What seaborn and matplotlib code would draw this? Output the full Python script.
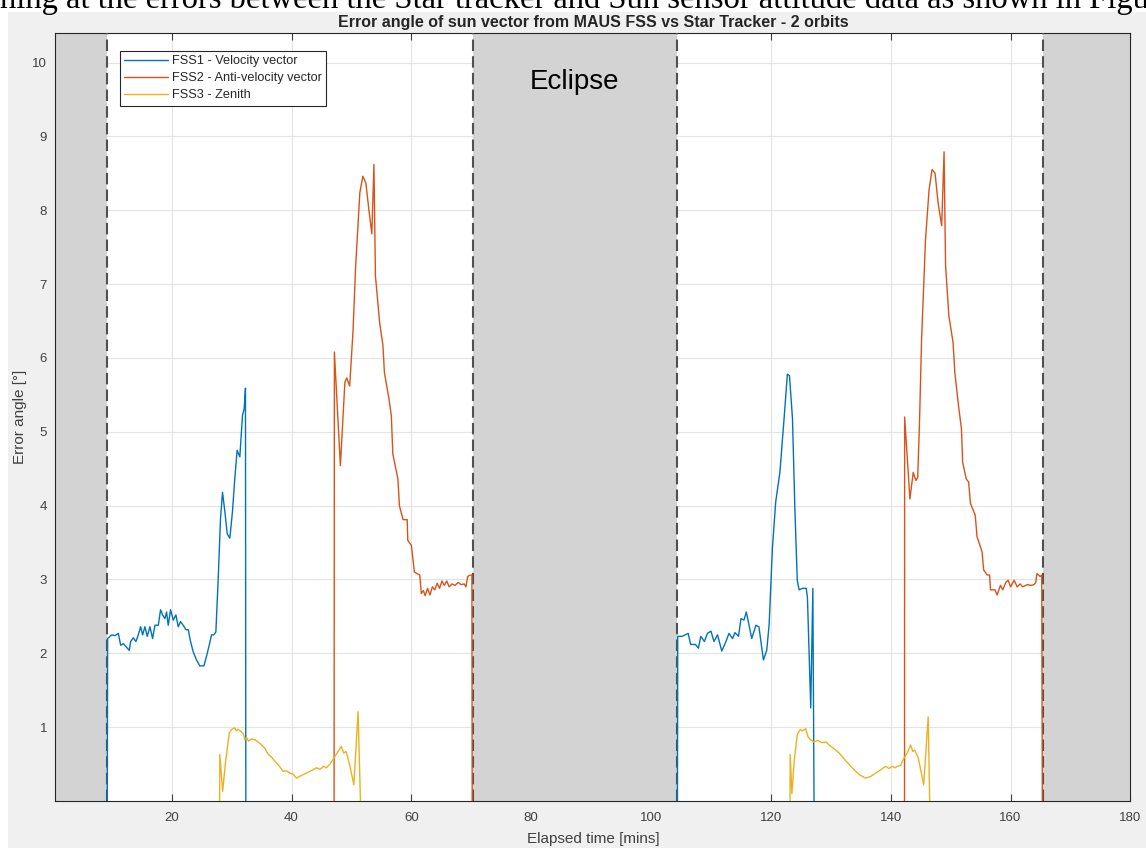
import numpy as np
import pandas as pd
import matplotlib
matplotlib.use("Agg")
import matplotlib.pyplot as plt
import seaborn as sns
from matplotlib.lines import Line2D
from matplotlib.patches import Rectangle

# ---------------- data ----------------
sensor_labels = ["FSS1 - Velocity vector", "FSS2 - Anti-velocity vector", "FSS3 - Zenith"]
sensor_colors = ["#0072BD", "#D95319", "#EDB120"]

fss1_o1_t = [9.25, 9.3, 9.98, 10.53, 11.09, 11.48, 11.92, 12.37, 12.92, 13.14, 13.59, 14.03, 14.42,
             14.81, 15.14, 15.53, 15.92, 16.37, 16.81, 17.2, 17.76, 18.14, 18.48, 18.87, 19.14, 19.42,
             19.81, 20.26, 20.7, 21.09, 21.48, 21.92, 22.37, 22.76, 23.14, 23.59, 24.14, 24.7, 25.37,
             25.81, 26.26, 26.64, 27.03, 27.37, 27.76, 28.14, 28.48, 28.87, 29.26, 29.7, 30.14, 30.53,
             30.92, 31.37, 31.81, 32.09, 32.31, 32.37]
fss1_o1_v = [0.0, 2.2, 2.25, 2.24, 2.27, 2.11, 2.13, 2.09, 2.04, 2.16, 2.21, 2.16, 2.25,
             2.36, 2.25, 2.36, 2.23, 2.36, 2.2, 2.38, 2.38, 2.59, 2.52, 2.47, 2.56, 2.38,
             2.59, 2.45, 2.52, 2.36, 2.43, 2.38, 2.32, 2.32, 2.16, 2.02, 1.91, 1.83, 1.83,
             1.96, 2.11, 2.25, 2.25, 2.29, 3.01, 3.82, 4.18, 3.92, 3.62, 3.56, 3.92, 4.37,
             4.75, 4.66, 5.22, 5.31, 5.59, 0.0]

fss2_o1_t = [47.1, 47.15, 48.15, 48.9, 49.2, 49.7, 50.25, 50.7, 51.4, 51.9, 52.4, 52.9, 53.4, 53.75,
             54.0, 54.7, 55.25, 55.5, 56.25, 56.65, 56.9, 57.75, 58.0, 58.6, 59.3, 59.4, 60.0, 60.5,
             61.4, 61.65, 62.0, 62.3, 62.7, 63.1, 63.5, 63.9, 64.3, 64.7, 65.1, 65.5, 65.9, 66.3,
             66.8, 67.3, 67.8, 68.3, 68.8, 69.1, 69.4, 69.8, 70.1, 70.15]
fss2_o1_v = [0.0, 6.08, 4.54, 5.67, 5.73, 5.62, 6.35, 7.25, 8.24, 8.46, 8.37, 8.01, 7.68, 8.62,
             7.11, 6.48, 6.17, 5.8, 5.45, 5.22, 4.7, 4.36, 4.0, 3.81, 3.81, 3.53, 3.46, 3.1,
             3.06, 2.81, 2.85, 2.78, 2.88, 2.79, 2.9, 2.86, 2.95, 2.88, 2.98, 2.92, 2.98, 2.9,
             2.94, 2.92, 2.96, 2.93, 2.94, 2.9, 3.04, 3.06, 3.06, 0.0]

fss3_o1_t = [28.0, 28.03, 28.5, 29.0, 29.6, 30.0, 30.5, 30.8, 31.1, 31.6, 32.0, 32.2, 32.5, 32.8,
             33.3, 33.9, 34.4, 35.0, 35.5, 36.1, 36.6, 37.2, 37.9, 38.6, 39.1, 39.7, 40.3, 40.8,
             41.5, 42.5, 43.3, 44.15, 44.8, 45.3, 45.8, 46.4, 46.9, 47.6, 48.3, 48.7, 49.1, 49.7,
             50.4, 51.1, 51.5]
fss3_o1_v = [0.0, 0.63, 0.13, 0.54, 0.92, 0.97, 0.99, 0.95, 0.97, 0.94, 0.9, 0.83, 0.86, 0.81,
             0.84, 0.83, 0.8, 0.76, 0.72, 0.63, 0.6, 0.54, 0.48, 0.4, 0.41, 0.38, 0.36, 0.31,
             0.34, 0.38, 0.41, 0.45, 0.43, 0.47, 0.45, 0.5, 0.56, 0.65, 0.74, 0.65, 0.67, 0.49,
             0.22, 1.21, 0.0]

fss1_o2_t = [104.4, 104.45, 105.2, 106.2, 106.6, 107.4, 107.9, 108.3, 108.9, 109.4, 110.0, 110.5,
             111.1, 111.8, 112.5, 113.0, 113.6, 114.0, 114.6, 115.0, 115.5, 115.9, 116.8, 117.5,
             118.0, 118.75, 119.3, 119.7, 120.25, 120.8, 121.5, 122.2, 122.75, 123.1, 123.6, 124.0,
             124.4, 124.7, 125.3, 125.9, 126.1, 126.65, 127.0, 127.2]
fss1_o2_v = [0.0, 2.23, 2.23, 2.27, 2.12, 2.12, 2.07, 2.23, 2.16, 2.27, 2.3, 2.16,
             2.25, 2.03, 2.16, 2.27, 2.2, 2.28, 2.23, 2.47, 2.45, 2.56, 2.2, 2.38,
             2.36, 1.91, 2.04, 2.38, 3.42, 4.05, 4.45, 5.18, 5.78, 5.76, 5.18, 3.96,
             2.99, 2.86, 2.88, 2.88, 2.75, 1.26, 2.88, 0.0]

fss2_o2_t = [142.3, 142.32, 143.2, 143.75, 144.2, 144.5, 144.8, 145.15, 145.8, 146.4, 146.9, 147.4,
             147.9, 148.5, 148.9, 149.15, 149.7, 150.4, 150.7, 151.3, 151.8, 152.0, 152.6, 153.0,
             153.3, 154.1, 154.4, 155.25, 155.5, 156.1, 156.5, 156.65, 157.4, 157.75, 158.3, 158.7,
             159.2, 159.6, 160.0, 160.6, 161.1, 161.6, 162.0, 162.8, 163.4, 163.9, 164.2, 164.4,
             164.95, 165.2, 165.3]
fss2_o2_v = [0.0, 5.2, 4.09, 4.45, 4.34, 4.38, 5.13, 6.26, 7.6, 8.28, 8.55, 8.5,
             8.1, 7.79, 8.79, 7.25, 6.57, 6.21, 5.8, 5.36, 5.04, 4.59, 4.36, 4.32,
             4.03, 3.87, 3.58, 3.37, 3.13, 3.06, 3.06, 2.86, 2.86, 2.79, 2.92, 2.86,
             2.96, 2.99, 2.9, 2.99, 2.9, 2.94, 2.9, 2.93, 2.92, 2.93, 2.96, 3.08,
             3.04, 3.06, 0.0]

fss3_o2_t = [123.2, 123.22, 123.5, 123.9, 124.4, 124.9, 125.3, 125.8, 126.2, 126.6, 127.2, 127.8,
             128.5, 129.2, 129.7, 130.5, 131.4, 132.2, 133.0, 133.8, 134.7, 135.8, 136.6, 137.5,
             138.3, 139.1, 139.7, 140.25, 140.7, 141.1, 141.6, 142.2, 142.75, 143.3, 143.7, 144.0,
             144.6, 145.5, 146.25, 146.5]
fss3_o2_v = [0.0, 0.63, 0.1, 0.55, 0.9, 0.97, 0.95, 0.98, 0.87, 0.83, 0.8, 0.82,
             0.79, 0.8, 0.76, 0.71, 0.65, 0.57, 0.5, 0.43, 0.36, 0.31, 0.33, 0.38,
             0.42, 0.47, 0.44, 0.47, 0.45, 0.47, 0.48, 0.58, 0.65, 0.76, 0.67, 0.69,
             0.58, 0.22, 1.14, 0.0]

eclipse_start = [0.6, 70.25, 165.4]
eclipse_end = [9.2, 104.35, 180.0]
eclipse_edges = [9.2, 70.25, 104.35, 165.4]

x_ticks = [20, 40, 60, 80, 100, 120, 140, 160, 180]
y_ticks = [1, 2, 3, 4, 5, 6, 7, 8, 9, 10]

title = "Error angle of sun vector from MAUS FSS vs Star Tracker - 2 orbits"
doc_text = "ning at the errors between the Star tracker and Sun sensor attitude data as shown in Figu"

# ---------------- build table ----------------
segments = [
    (sensor_labels[0], fss1_o1_t, fss1_o1_v),
    (sensor_labels[1], fss2_o1_t, fss2_o1_v),
    (sensor_labels[2], fss3_o1_t, fss3_o1_v),
    (sensor_labels[0], fss1_o2_t, fss1_o2_v),
    (sensor_labels[1], fss2_o2_t, fss2_o2_v),
    (sensor_labels[2], fss3_o2_t, fss3_o2_v),
]
rows = []
for i, (name, ts, vs) in enumerate(segments):
    for t, v in zip(ts, vs):
        rows.append((name, i, t, v))
df = pd.DataFrame(rows, columns=["sensor", "segment", "time", "angle"])

# ---------------- plot ----------------
sns.set_theme(style="white")
plt.rcParams["font.family"] = ["Liberation Sans", "DejaVu Sans"]

fig = plt.figure(figsize=(11.46, 8.48), dpi=100, facecolor="white")
fig.patches.append(Rectangle((8 / 1146, 0), 1, 1 - 12 / 848, transform=fig.transFigure,
                             facecolor="#f0f0f0", edgecolor="none", zorder=-10))
fig.text(0.0, 1 - 8 / 848, doc_text, fontfamily=["Liberation Serif", "DejaVu Serif"],
         fontsize=23.5, ha="left", va="baseline", color="black", zorder=5)

ax = fig.add_axes([0.0484, 0.0554, 0.938, 0.9057])
ax.set_zorder(1)
ax.set_facecolor("white")
ax.set_axisbelow(True)
ax.grid(True, color="#e3e3e3", lw=0.8)

for s, e in zip(eclipse_start, eclipse_end):
    ax.axvspan(s, e, facecolor="#d3d3d3", edgecolor="none", zorder=1)

sns.lineplot(data=df, x="time", y="angle", hue="sensor", units="segment", estimator=None,
             sort=False, palette=dict(zip(sensor_labels, sensor_colors)), hue_order=sensor_labels,
             lw=1.0, legend=False, ax=ax, zorder=4)

for xe in eclipse_edges:
    ax.axvline(xe, color="#505050", lw=1.5, ls=(0, (5.5, 2.5)), zorder=3)

ax.text(87.2, 9.74, "Eclipse", fontsize=20, ha="center", va="center", color="black")

ax.set_xlim(0.6, 180)
ax.set_ylim(0, 10.4)
ax.set_xticks(x_ticks)
ax.set_yticks(y_ticks)
ax.tick_params(direction="in", length=5, width=0.8, top=True, right=True, bottom=True, left=True,
               colors="#404040", labelsize=9.5)
ax.tick_params(axis="x", pad=8)
ax.tick_params(axis="y", pad=6)
for sp in ax.spines.values():
    sp.set_color("#262626")
    sp.set_linewidth(0.8)

ax.set_xlabel("Elapsed time [mins]", fontsize=11, color="#404040", labelpad=6)
ax.set_ylabel("Error angle [°]", fontsize=11, color="#404040", labelpad=4)
ax.set_title(title, fontsize=11.5, fontweight="bold", color="#262626", pad=4)

handles = [Line2D([0], [0], color=c, lw=1.0) for c in sensor_colors]
leg = ax.legend(handles, sensor_labels, loc="upper left", bbox_to_anchor=(0.06, 0.977),
                borderaxespad=0, fontsize=9.2, frameon=True, fancybox=False, framealpha=1,
                edgecolor="#262626", handlelength=3.4, handletextpad=0.3, labelspacing=0.4,
                borderpad=0.35)
leg.get_frame().set_linewidth(0.8)
for t in leg.get_texts():
    t.set_color("#262626")

fig.savefig("out.png", dpi=100, facecolor=fig.get_facecolor())
